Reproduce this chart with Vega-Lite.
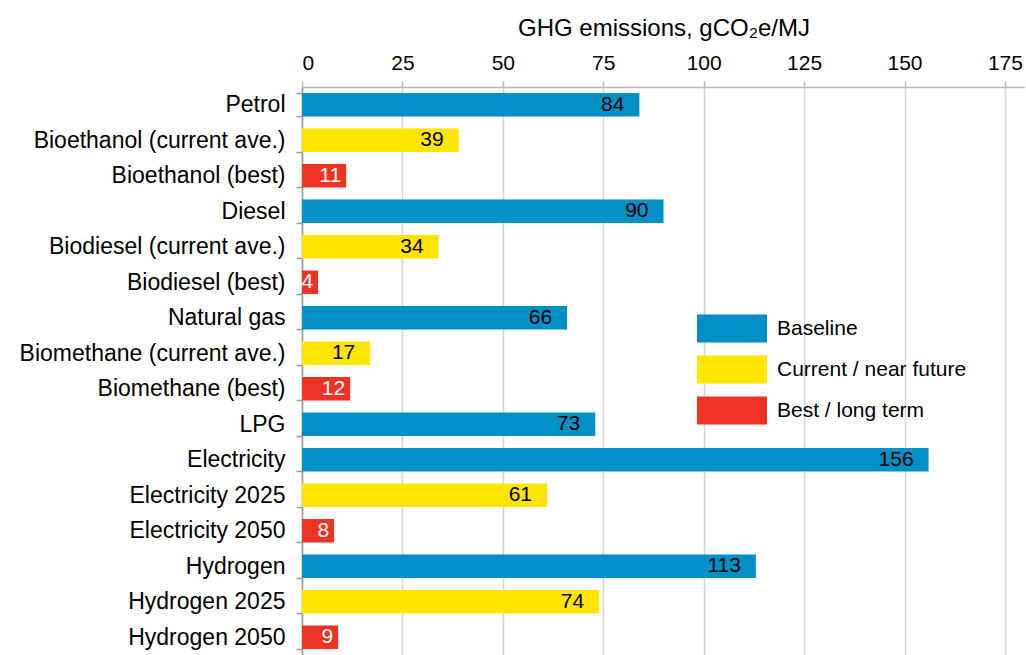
{
  "$schema": "https://vega.github.io/schema/vega-lite/v6.json",
  "width": 723,
  "height": 568,
  "autosize": {"type": "none"},
  "padding": {"left": 302, "top": 87, "right": 0, "bottom": 0},
  "background": "white",
  "config": {"view": {"stroke": null}, "font": "Liberation Sans"},
  "data": {"values": [
    {"fuel": "Petrol", "value": 84, "type": "Baseline"},
    {"fuel": "Bioethanol (current ave.)", "value": 39, "type": "Current / near future"},
    {"fuel": "Bioethanol (best)", "value": 11, "type": "Best / long term"},
    {"fuel": "Diesel", "value": 90, "type": "Baseline"},
    {"fuel": "Biodiesel (current ave.)", "value": 34, "type": "Current / near future"},
    {"fuel": "Biodiesel (best)", "value": 4, "type": "Best / long term"},
    {"fuel": "Natural gas", "value": 66, "type": "Baseline"},
    {"fuel": "Biomethane (current ave.)", "value": 17, "type": "Current / near future"},
    {"fuel": "Biomethane (best)", "value": 12, "type": "Best / long term"},
    {"fuel": "LPG", "value": 73, "type": "Baseline"},
    {"fuel": "Electricity", "value": 156, "type": "Baseline"},
    {"fuel": "Electricity 2025", "value": 61, "type": "Current / near future"},
    {"fuel": "Electricity 2050", "value": 8, "type": "Best / long term"},
    {"fuel": "Hydrogen", "value": 113, "type": "Baseline"},
    {"fuel": "Hydrogen 2025", "value": 74, "type": "Current / near future"},
    {"fuel": "Hydrogen 2050", "value": 9, "type": "Best / long term"}
  ]},
  "encoding": {
    "y": {"field": "fuel", "type": "nominal", "sort": null,
      "scale": {"paddingInner": 0.34, "paddingOuter": 0.17},
      "axis": {"title": null, "labelFontSize": 23, "labelColor": "#000", "labelPadding": 11,
        "domainColor": "#999", "domainWidth": 1.5, "tickColor": "#999", "tickWidth": 1.5, "tickSize": 6,
        "tickBand": "extent", "grid": false, "labelLimit": 400}},
    "x": {"field": "value", "type": "quantitative",
      "scale": {"domain": [0, 180], "nice": false},
      "axis": {"orient": "top", "title": "GHG emissions, gCO₂e/MJ", "titleFontSize": 24, "titleFontWeight": "normal",
        "titleColor": "#000", "titlePadding": 12, "labelFontSize": 21, "labelColor": "#000", "labelPadding": 8,
        "values": [0, 25, 50, 75, 100, 125, 150, 175], "grid": true, "gridColor": "#d4d4d4", "gridWidth": 1.5,
        "domainColor": "#bbb", "domainWidth": 1.5, "tickColor": "#bbb", "tickWidth": 1.5, "tickSize": 6}}
  },
  "layer": [
    {"mark": {"type": "bar"},
      "encoding": {"color": {"field": "type", "type": "nominal",
        "scale": {"domain": ["Baseline", "Current / near future", "Best / long term"], "range": ["#0090c6", "#ffe500", "#ee3224"]},
        "legend": {"title": null, "orient": "none", "legendX": 412.5, "legendY": 224,
          "symbolType": "M-2,-0.8H2V0.8H-2Z", "symbolSize": 1225, "symbolStrokeWidth": 0, "symbolOpacity": 1,
          "labelFontSize": 21, "labelColor": "#000", "labelOffset": 27.5, "rowPadding": 9, "labelLimit": 300}}}},
    {"transform": [{"filter": "datum.type !== 'Best / long term'"}],
      "mark": {"type": "text", "align": "right", "dx": -15, "fontSize": 21, "baseline": "middle", "color": "black"},
      "encoding": {"text": {"field": "value", "type": "quantitative"}}},
    {"transform": [{"filter": "datum.type === 'Best / long term'"}],
      "mark": {"type": "text", "align": "right", "dx": -5, "fontSize": 21, "baseline": "middle", "color": "white"},
      "encoding": {"text": {"field": "value", "type": "quantitative"}}}
  ]
}
